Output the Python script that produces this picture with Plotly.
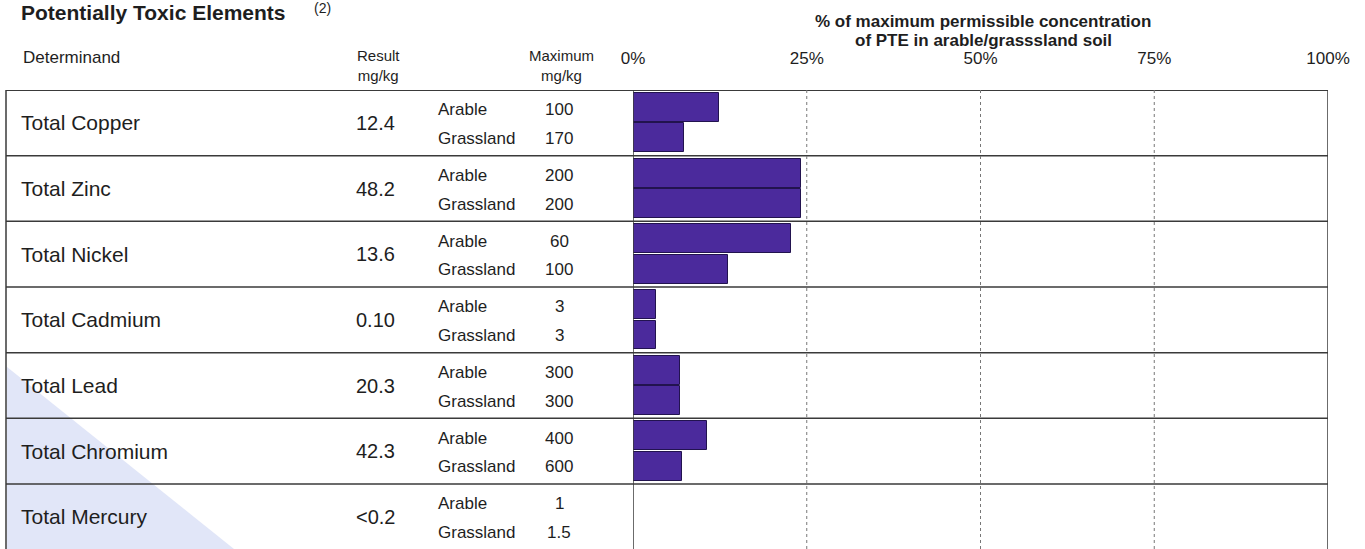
import plotly.graph_objects as go

# ---- data ----
determinands = ["Total Copper", "Total Zinc", "Total Nickel", "Total Cadmium",
                "Total Lead", "Total Chromium", "Total Mercury"]
results = ["12.4", "48.2", "13.6", "0.10", "20.3", "42.3", "<0.2"]
arable_max = ["100", "200", "60", "3", "300", "400", "1"]
grassland_max = ["170", "200", "100", "3", "300", "600", "1.5"]
arable_pct = [12.4, 24.1, 22.7, 3.3, 6.8, 10.6, None]
grassland_pct = [7.3, 24.1, 13.6, 3.3, 6.8, 7.1, None]
tick_vals = [0, 25, 50, 75, 100]
tick_text = ["0%", "25%", "50%", "75%", "100%"]

W, H = 1365, 549
PL, PR, PT = 633, 1328, 90
PW = PR - PL
PH = H - PT
NROWS = len(determinands)
ROWPX = 65.67
YMAX = PH / ROWPX

FONT = "Liberation Sans, Arial, sans-serif"
BAR = "#4b2a9c"
BARLINE = "#22134f"
LINE = "#3a3a3a"
TXT = "#1e1e1e"


def px(x):
    return (x - PL) / PW


def py(y):
    return (H - y) / PH


fig = go.Figure()

rows = list(range(NROWS))
fig.add_trace(go.Bar(
    x=arable_pct, y=[r + 0.265 for r in rows], orientation="h", width=0.44,
    marker=dict(color=BAR, line=dict(color=BARLINE, width=1)),
    showlegend=False, hoverinfo="x"))
fig.add_trace(go.Bar(
    x=grassland_pct, y=[r + 0.73 for r in rows], orientation="h", width=0.44,
    marker=dict(color=BAR, line=dict(color=BARLINE, width=1)),
    showlegend=False, hoverinfo="x"))

shapes = []
# watermark triangle (bottom-left)
shapes.append(dict(type="path", xref="paper", yref="paper", layer="below",
                   path=f"M {px(7)} {py(367)} L {px(7)} {py(549)} L {px(234)} {py(549)} Z",
                   fillcolor="#e1e6f8", line=dict(width=0)))
# horizontal row lines
for r in range(NROWS):
    shapes.append(dict(type="line", xref="paper", yref="y", x0=px(6), x1=1.0,
                       y0=r, y1=r, line=dict(color=LINE, width=1.8 if r == 0 else 1.5)))
# left border
shapes.append(dict(type="line", xref="paper", yref="paper", x0=px(6), x1=px(6),
                   y0=0, y1=1, line=dict(color=LINE, width=1.5)))
# dotted gridlines
for v in [25, 50, 75]:
    shapes.append(dict(type="line", xref="x", yref="paper", x0=v, x1=v, y0=0, y1=1,
                       line=dict(color="#777777", width=1, dash="dot")))
# axis line at 0 and right border at 100
for v in [0, 100]:
    shapes.append(dict(type="line", xref="x", yref="paper", x0=v, x1=v, y0=0, y1=1,
                       line=dict(color=LINE, width=1.5)))

ann = []
# title superscript
ann.append(dict(text="(2)", x=px(312), y=py(8), xanchor="left", yanchor="middle",
                font=dict(size=14)))
# column headers
ann.append(dict(text="Determinand", x=px(21), y=py(57), xanchor="left", yanchor="middle",
                font=dict(size=17)))
ann.append(dict(text="Result<br>mg/kg", x=px(378), y=py(65), xanchor="center",
                yanchor="middle", align="center", font=dict(size=15)))
ann.append(dict(text="Maximum<br>mg/kg", x=px(561), y=py(65), xanchor="center",
                yanchor="middle", align="center", font=dict(size=15)))
ann.append(dict(text="<b>% of maximum permissible concentration</b>", x=px(983), y=py(21),
                xanchor="center", yanchor="middle", font=dict(size=17)))
ann.append(dict(text="<b>of PTE in arable/grasssland soil</b>", x=px(983), y=py(40),
                xanchor="center", yanchor="middle", font=dict(size=17)))

for r in rows:
    ann.append(dict(text=determinands[r], x=px(19), y=r + 0.5, yref="y",
                    xanchor="left", yanchor="middle", font=dict(size=21)))
    ann.append(dict(text=results[r], x=px(397), y=r + 0.5, yref="y",
                    xanchor="right", yanchor="middle", font=dict(size=20)))
    ann.append(dict(text="Arable", x=px(436), y=r + 0.3, yref="y",
                    xanchor="left", yanchor="middle", font=dict(size=17)))
    ann.append(dict(text="Grassland", x=px(436), y=r + 0.74, yref="y",
                    xanchor="left", yanchor="middle", font=dict(size=17)))
    ann.append(dict(text=arable_max[r], x=px(559), y=r + 0.3, yref="y",
                    xanchor="center", yanchor="middle", font=dict(size=17)))
    ann.append(dict(text=grassland_max[r], x=px(559), y=r + 0.74, yref="y",
                    xanchor="center", yanchor="middle", font=dict(size=17)))

for a in ann:
    a.setdefault("xref", "paper")
    a.setdefault("yref", "paper")
    a["showarrow"] = False
    a["font"]["color"] = TXT
    a["font"]["family"] = FONT

fig.update_layout(
    width=W, height=H,
    margin=dict(l=PL, r=W - PR, t=PT, b=0, pad=0),
    paper_bgcolor="white", plot_bgcolor="rgba(0,0,0,0)",
    font=dict(family=FONT, color=TXT),
    title=dict(text="<b>Potentially Toxic Elements</b>",
               x=21 / W, xref="container", xanchor="left",
               y=1 - 13 / H, yref="container", yanchor="middle",
               font=dict(size=21, color=TXT, family=FONT)),
    bargap=0,
    xaxis=dict(range=[0, 100], side="top", tickvals=tick_vals, ticktext=tick_text,
               showgrid=False, zeroline=False, showline=False, ticks="",
               tickfont=dict(size=17, color=TXT, family=FONT), ticklabelstandoff=22,
               fixedrange=True),
    yaxis=dict(range=[YMAX, 0], showgrid=False, zeroline=False, showline=False,
               showticklabels=False, ticks="", fixedrange=True),
    shapes=shapes,
    annotations=ann,
)

fig.write_html("out.html", config={"displayModeBar": False},
               post_script="document.body.style.margin='0px';")
